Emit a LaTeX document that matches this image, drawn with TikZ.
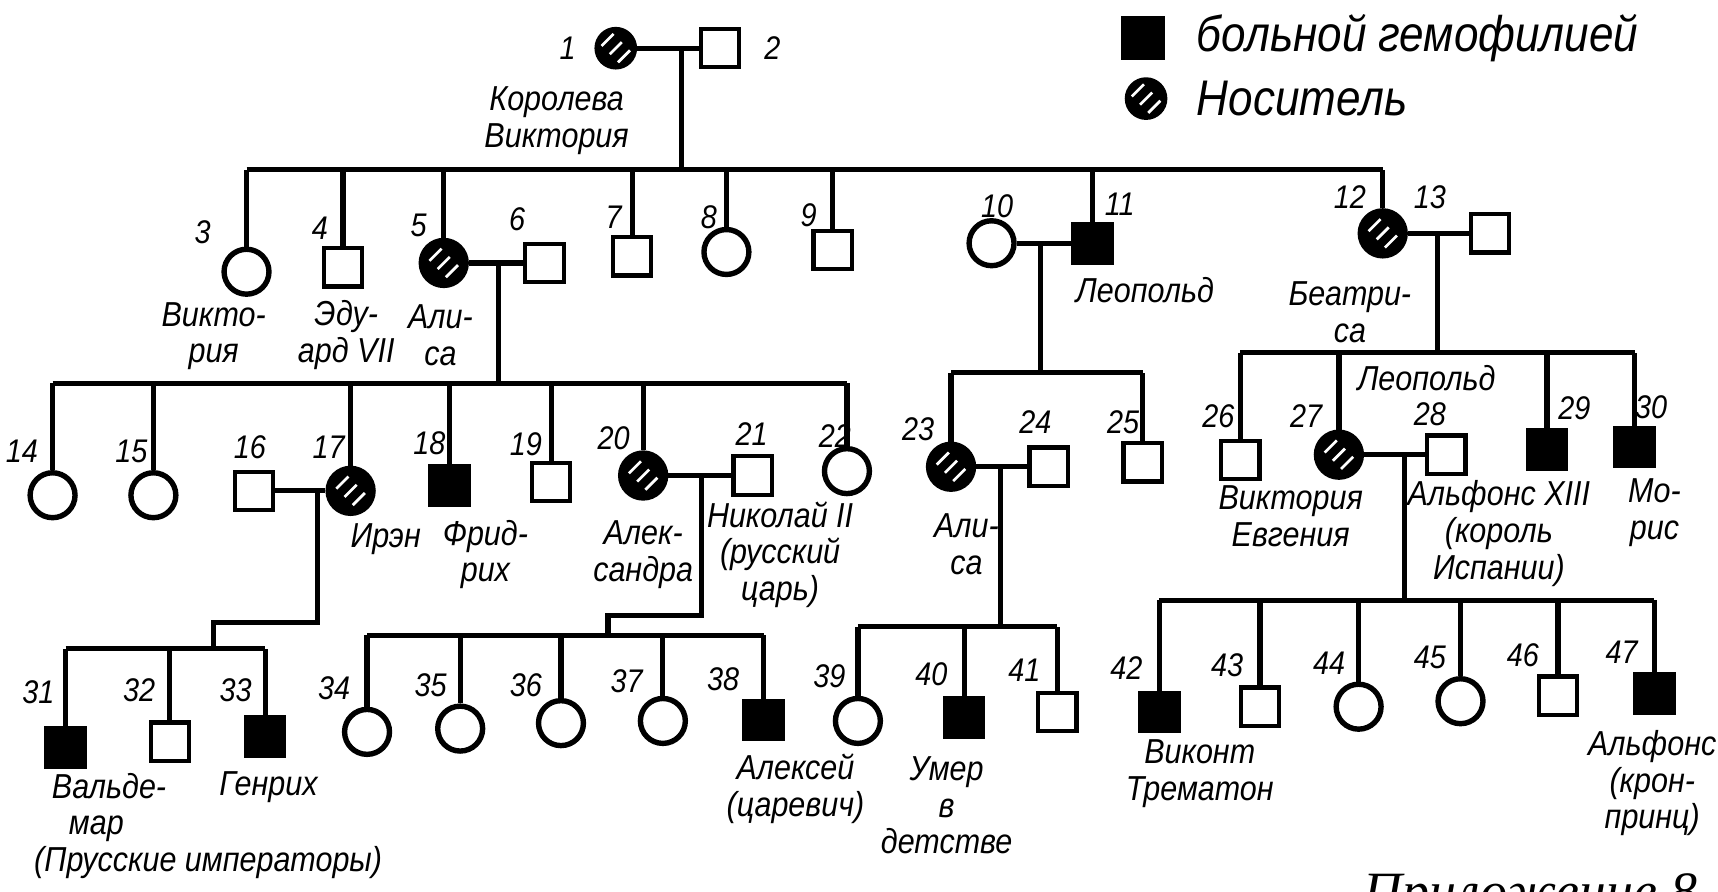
\documentclass[tikz,border=0pt]{standalone}
\usepackage{fontspec}
\setmainfont{Liberation Sans}[FakeStretch=0.88]
\newfontfamily\serifit{Liberation Serif}
\usepackage{tikz}
\usetikzlibrary{shapes.geometric}

\begin{document}
\begin{tikzpicture}[x=0.1mm, y=-0.1mm,
  conn/.style={line width=1.35pt},
  male/.style={draw, rectangle, minimum size=3.5mm, inner sep=0pt, line width=1.1pt},
  sick/.style={male, fill=black},
  female/.style={draw, circle, minimum size=4.1mm, inner sep=0pt, line width=1.4pt},
  carrier/.style={female, fill=black, path picture={
      \foreach \a/\b in {-1.3/0.2, -0.55/-0.55, 0.2/-1.3}
        \draw[white, line width=0.7pt]
          ([shift={(\a mm,\b mm)}]path picture bounding box.center) -- ++(1.1mm,1.1mm);}},
  numlabel/.style={font=\fontsize{8.5}{9}\selectfont\itshape},
  namelabel/.style={font=\fontsize{9}{9.5}\selectfont\itshape, align=center}]

  \useasboundingbox (0,0) rectangle (1568,814);
  \fill[white] (0,0) rectangle (1568,814);
  \clip (0,0) rectangle (1568,814);

  % Legend (top right)
  \node (legsick) at (1043,35) [sick, minimum size=3.6mm] {};
  \node (legsicktext) at (1080,35) [anchor=west, font=\fontsize{13}{15}\selectfont\itshape] {больной гемофилией};
  \node (legcarrier) at (1046,90) [carrier, minimum size=3.4mm] {};
  \node (legcarriertext) at (1080,90) [anchor=west, font=\fontsize{13}{15}\selectfont\itshape] {Носитель};

  % Healthy men
  \foreach \i/\x/\y in {2/657/44, 4/313/244, 6/497/240, 7/577/234, 9/760/228, 13/1360/213,
                        16/232/448, 19/503/440, 21/687/434, 24/957/426, 25/1043/422,
                        26/1132/420, 28/1320/415, 32/155/677, 41/965/650, 43/1150/645, 46/1422/635}
    \node (p\i) at (\x,\y) [male] {};

  % Haemophiliacs
  \foreach \i/\x/\y in {11/997/222, 18/410/443, 29/1412/410, 30/1492/408, 31/60/682, 33/242/672,
                        38/697/657, 40/880/655, 42/1058/650, 47/1510/633}
    \node (p\i) at (\x,\y) [sick] {};

  % Healthy women
  \foreach \i/\x/\y in {3/225/248, 8/663/230, 10/905/222, 14/48/452, 15/140/452, 22/773/430,
                        34/335/668, 35/420/665, 36/512/660, 37/605/658, 39/783/658, 44/1240/645, 45/1333/640}
    \node (p\i) at (\x,\y) [female] {};

  % Carriers
  \node (p1) at (562,44) [carrier, minimum size=3.4mm] {};
  \foreach \i/\x/\y in {5/405/240, 12/1262/213, 17/320/448, 20/587/434, 23/868/426, 27/1222/415}
    \node (p\i) at (\x,\y) [carrier] {};

  % Numbers
  \foreach \i/\x/\y in {1/518/44, 2/705/44, 3/185/212, 4/292/208, 5/382/206, 6/472/200, 7/560/198,
                        8/647/198, 9/738/196, 10/910/188, 11/1022/186, 12/1232/180, 13/1305/180,
                        14/20/412, 15/120/412, 16/228/408, 17/300/408, 18/392/405, 19/480/405,
                        20/560/400, 21/686/396, 22/762/398, 23/838/392, 24/945/385, 25/1025/385,
                        26/1112/380, 27/1192/380, 28/1305/378, 29/1437/373, 30/1507/372,
                        31/35/632, 32/127/630, 33/215/630, 34/305/628, 35/393/625, 36/480/625,
                        37/572/622, 38/660/620, 39/757/617, 40/850/615, 41/935/612, 42/1028/610,
                        43/1120/607, 44/1213/605, 45/1305/600, 46/1390/598, 47/1480/595}
    \node (n\i) at (\x,\y) [numlabel] {\i};

  % Names
  \node (t1) at (508,110) [namelabel] {Королева\\Виктория};
  \node (t3) at (195,307) [namelabel] {Викто-\\рия};
  \node (t4) at (316,306) [namelabel] {Эду-\\ард VII};
  \node (t5) at (402,306) [namelabel] {Али-\\са};
  \node (t11) at (1045,265) [namelabel] {Леопольд};
  \node (t12) at (1232,285) [namelabel] {Беатри-\\са};
  \node (t17) at (352,492) [namelabel] {Ирэн};
  \node (t18) at (443,506) [namelabel] {Фрид-\\рих};
  \node (t20) at (587,506) [namelabel] {Алек-\\сандра};
  \node (t21) at (712,506) [namelabel] {Николай II\\(русский\\царь)};
  \node (t23) at (882,497) [namelabel] {Али-\\са};
  \node (t27) at (1178,471) [namelabel] {Виктория\\Евгения};
  \node (t28) at (1368,487) [namelabel] {Альфонс XIII\\(король\\Испании)};
  \node (t29) at (1302,345) [namelabel] {Леопольд};
  \node (t30) at (1510,468) [namelabel] {Мо-\\рис};
  \node (t31) at (35,737) [namelabel, anchor=west, align=left] {Вальде-\\\ \ мар};
  \node (t33) at (245,718) [namelabel] {Генрих};
  \node (t31b) at (190,787) [namelabel] {(Прусские императоры)};
  \node (t38) at (726,720) [namelabel] {Алексей\\(царевич)};
  \node (t40) at (864,735) [namelabel] {Умер\\в\\детстве};
  \node (t42) at (1095,706) [namelabel] {Виконт\\Трематон};
  \node (t47) at (1508,715) [namelabel] {Альфонс\\(крон-\\принц)};

  % Marriages and where the children's lines leave them
  \coordinate (m1) at (622,44);    \coordinate (s1) at (622,155);
  \coordinate (m5) at (455,240);   \coordinate (s5) at (455,350);
  \coordinate (m10) at (950,222);  \coordinate (s10) at (950,340);
  \coordinate (m12) at (1312,213); \coordinate (s12) at (1312,322);
  \coordinate (m17) at (290,448);  \coordinate (j17) at (290,568); \coordinate (s17) at (195,592);
  \coordinate (m20) at (640,434);  \coordinate (j20) at (640,562); \coordinate (s20) at (555,580);
  \coordinate (m23) at (913,426);  \coordinate (s23) at (913,572);
  \coordinate (m27) at (1282,415); \coordinate (s27) at (1282,548);

  \foreach \a/\b in {1/2, 5/6, 10/11, 12/13, 16/17, 20/21, 23/24, 27/28}
    \draw[conn] (p\a) -- (p\b);
  \foreach \m in {1,5,10,12,23,27}
    \draw[conn] (m\m) -- (s\m);
  \draw[conn] (m17) -- (j17) -| (s17);
  \draw[conn] (m20) -- (j20) -| (s20);

  % Sibships
  \draw[conn] (p3.north |- s1) -- (p12.north |- s1);
  \foreach \i in {3,4,5,7,8,9,11,12} \draw[conn] (p\i.north) -- (p\i.north |- s1);
  \draw[conn] (p14.north |- s5) -- (p22.north |- s5);
  \foreach \i in {14,15,17,18,19,20,22} \draw[conn] (p\i.north) -- (p\i.north |- s5);
  \draw[conn] (p23.north |- s10) -- (p25.north |- s10);
  \foreach \i in {23,25} \draw[conn] (p\i.north) -- (p\i.north |- s10);
  \draw[conn] (p26.north |- s12) -- (p30.north |- s12);
  \foreach \i in {26,27,29,30} \draw[conn] (p\i.north) -- (p\i.north |- s12);
  \draw[conn] (p31.north |- s17) -- (p33.north |- s17);
  \foreach \i in {31,32,33} \draw[conn] (p\i.north) -- (p\i.north |- s17);
  \draw[conn] (p34.north |- s20) -- (p38.north |- s20);
  \foreach \i in {34,...,38} \draw[conn] (p\i.north) -- (p\i.north |- s20);
  \draw[conn] (p39.north |- s23) -- (p41.north |- s23);
  \foreach \i in {39,40,41} \draw[conn] (p\i.north) -- (p\i.north |- s23);
  \draw[conn] (p42.north |- s27) -- (p47.north |- s27);
  \foreach \i in {42,...,47} \draw[conn] (p\i.north) -- (p\i.north |- s27);

  % Caption, cut by the lower edge
  \node (appx) at (1232,830) [anchor=base west, font=\serifit\itshape\fontsize{14}{16}\selectfont] {Приложение 8};

\end{tikzpicture}
\end{document}
